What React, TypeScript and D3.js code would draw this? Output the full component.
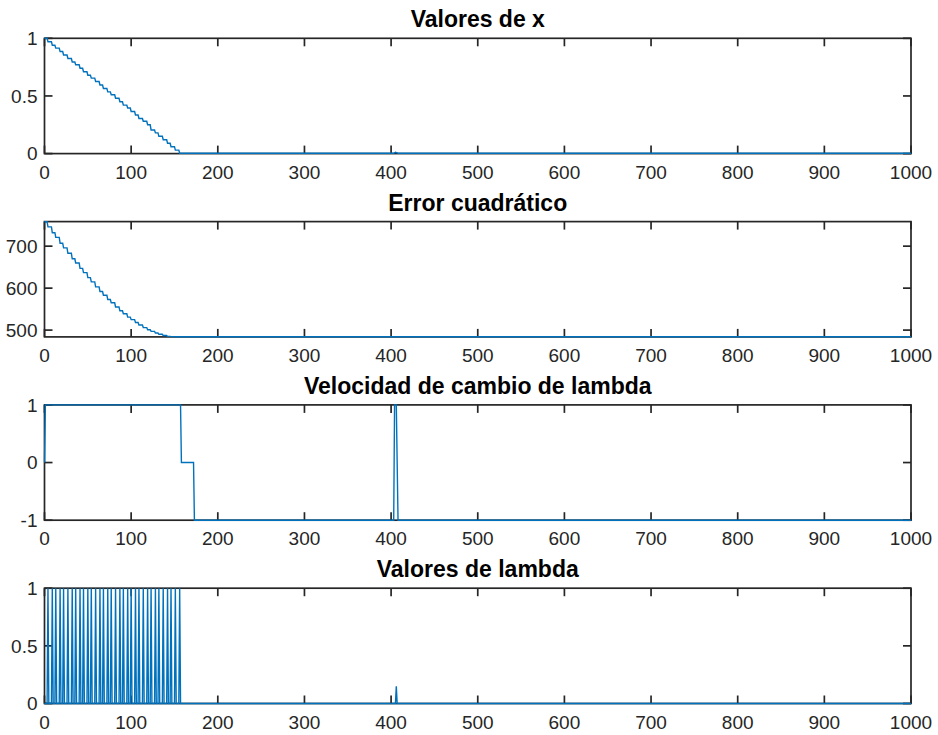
import React from "react";
import * as d3 from "d3";

// Iteration axis
const iterDomain: [number, number] = [0, 1000];
const iterTicks = [0, 100, 200, 300, 400, 500, 600, 700, 800, 900, 1000];

// Iterations at which lambda fires and x / error step down
const stepIters = [4, 9, 13, 18, 22, 27, 32, 36, 41, 45, 50, 54, 59, 64, 68, 73, 77, 82, 87, 91, 96, 100, 105, 109, 114, 119, 123, 128, 132, 137, 142, 146, 151, 156];

// x value before the first step and after each step
const xLevels = [1.0, 0.97, 0.94, 0.915, 0.885, 0.855, 0.825, 0.795, 0.77, 0.74, 0.71, 0.68, 0.655, 0.625, 0.595, 0.565, 0.535, 0.51, 0.48, 0.45, 0.42, 0.395, 0.365, 0.335, 0.305, 0.28, 0.25, 0.205, 0.18, 0.15, 0.12, 0.09, 0.06, 0.03, 0.003];
// x after convergence
const xTailIters = [157, 403, 405, 408, 1000];
const xTailValues = [0.003, 0.003, 0.012, 0.003, 0.003];

// Squared error before the first step and after each step
const errLevels = [758, 746, 732, 721, 707, 696, 683, 670, 660, 647, 637, 625, 615, 603, 592, 583, 573, 565, 555, 546, 539, 531, 525, 518, 512, 506, 501, 497, 493, 490, 487, 485, 484.5, 484, 484];
const errTailIters = [157, 1000];
const errTailValues = [484, 484];

// Rate of change of lambda
const rateIters = [0, 1, 157, 158, 172, 173, 403, 404, 406, 408, 1000];
const rateValues = [0, 1, 1, 0, 0, -1, -1, 1, 1, -1, -1];

// Lambda peaks (iteration, value); lambda is 0 elsewhere
const lambdaPeakIters = [4, 9, 13, 18, 22, 27, 32, 36, 41, 45, 50, 54, 59, 64, 68, 73, 77, 82, 87, 91, 96, 100, 105, 109, 114, 119, 123, 128, 132, 137, 142, 146, 151, 156, 406];
const lambdaPeakValues = [1, 1, 1, 1, 1, 1, 1, 1, 1, 1, 1, 1, 1, 1, 1, 1, 1, 1, 1, 1, 1, 1, 1, 1, 1, 1, 1, 1, 1, 1, 1, 1, 1, 1, 0.15];

// Panel titles and y ticks
const titles = ["Valores de x", "Error cuadrático", "Velocidad de cambio de lambda", "Valores de lambda"];
const yTickSets = [
  [0, 0.5, 1],
  [500, 600, 700],
  [-1, 0, 1],
  [0, 0.5, 1],
];

type Pt = [number, number];

function staircase(levels: number[], tailIters: number[], tailValues: number[]): Pt[] {
  const pts: Pt[] = [[0, levels[0]]];
  stepIters.forEach((s, i) => {
    pts.push([s - 1, levels[i]]);
    pts.push([s, levels[i + 1]]);
  });
  tailIters.forEach((t, i) => pts.push([t, tailValues[i]]));
  return pts;
}

function peaks(): Pt[] {
  const pts: Pt[] = [[0, 0]];
  lambdaPeakIters.forEach((p, i) => {
    pts.push([p - 1, 0]);
    pts.push([p, lambdaPeakValues[i]]);
    pts.push([p + 1, 0]);
  });
  pts.push([1000, 0]);
  return pts;
}

const seriesList: Pt[][] = [
  staircase(xLevels, xTailIters, xTailValues),
  staircase(errLevels, errTailIters, errTailValues),
  rateIters.map((t, i) => [t, rateValues[i]] as Pt),
  peaks(),
];

const yDomains: [number, number][] = [
  [0, 1],
  [483.8, 758.5],
  [-1, 1],
  [0, 1],
];

const W = 938;
const H = 735;
const left = 44.5;
const right = 911;
const firstTop = 38.3;
const panelStep = 183.3;
const panelH = 115.3;
const axisColor = "#262626";
const lineColor = "#0072BD";
const font = "Arial, 'Liberation Sans', Helvetica, sans-serif";
const tickLen = 8;
const axisWidth = 1.7;

function Panel({ idx }: { idx: number }) {
  const top = firstTop + idx * panelStep;
  const bottom = top + panelH;
  const x = d3.scaleLinear().domain(iterDomain).range([left, right]);
  const y = d3.scaleLinear().domain(yDomains[idx]).range([bottom, top]);
  const line = d3
    .line<Pt>()
    .x((d) => x(d[0]))
    .y((d) => y(d[1]));
  const yTicks = yTickSets[idx];
  return (
    <g>
      <text
        x={(left + right) / 2}
        y={top - 11}
        textAnchor="middle"
        fontFamily={font}
        fontWeight="bold"
        fontSize={23}
        fill="#000"
      >
        {titles[idx]}
      </text>
      {iterTicks.map((t) => (
        <g key={"x" + t}>
          <line x1={x(t)} x2={x(t)} y1={bottom} y2={bottom - tickLen} stroke={axisColor} strokeWidth={axisWidth} />
          <line x1={x(t)} x2={x(t)} y1={top} y2={top + tickLen} stroke={axisColor} strokeWidth={axisWidth} />
          <text
            x={x(t)}
            y={bottom + 25}
            textAnchor="middle"
            fontFamily={font}
            fontSize={19}
            fill={axisColor}
          >
            {t}
          </text>
        </g>
      ))}
      {yTicks.map((t) => (
        <g key={"y" + t}>
          <line x1={left} x2={left + tickLen} y1={y(t)} y2={y(t)} stroke={axisColor} strokeWidth={axisWidth} />
          <line x1={right} x2={right - tickLen} y1={y(t)} y2={y(t)} stroke={axisColor} strokeWidth={axisWidth} />
          <text
            x={left - 7}
            y={y(t)}
            dy="0.35em"
            textAnchor="end"
            fontFamily={font}
            fontSize={19}
            fill={axisColor}
          >
            {t}
          </text>
        </g>
      ))}
      <rect
        x={left}
        y={top}
        width={right - left}
        height={bottom - top}
        fill="none"
        stroke={axisColor}
        strokeWidth={axisWidth}
      />
      <path d={line(seriesList[idx]) ?? ""} fill="none" stroke={lineColor} strokeWidth={1.4} />
    </g>
  );
}

export default function App() {
  return (
    <svg
      width={W}
      height={H}
      viewBox={`0 0 ${W} ${H}`}
      style={{ position: "absolute", left: 0, top: 0, background: "#fff" }}
    >
      <rect x={0} y={0} width={W} height={H} fill="#fff" />
      {[0, 1, 2, 3].map((i) => (
        <Panel key={i} idx={i} />
      ))}
    </svg>
  );
}
